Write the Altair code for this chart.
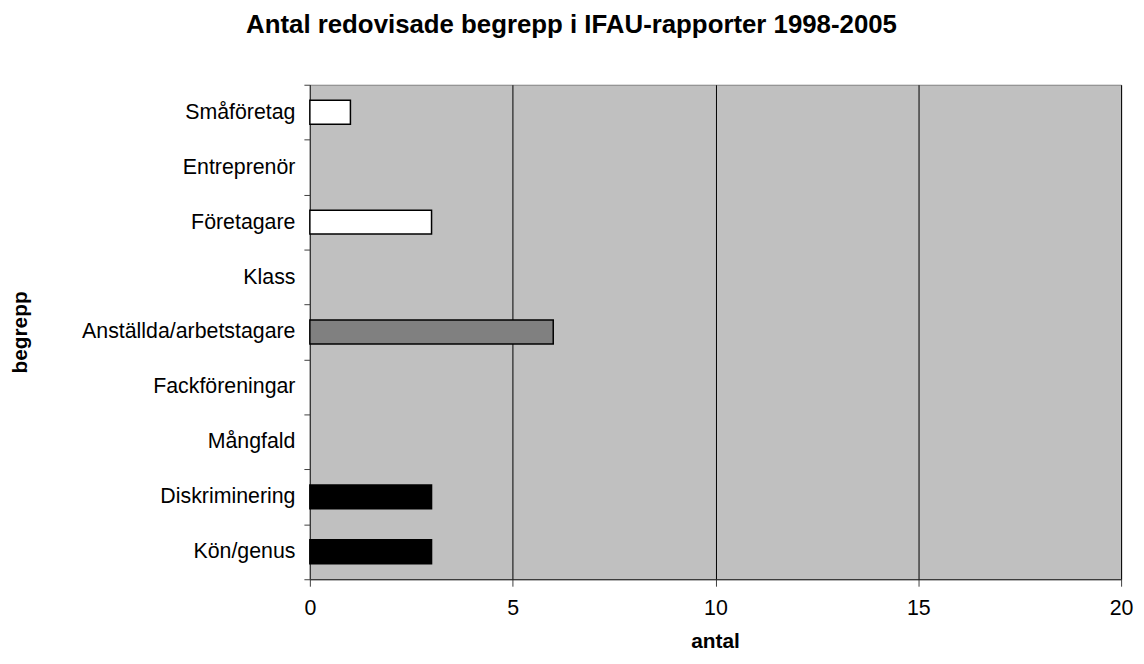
import altair as alt
import pandas as pd

categories = ["Småföretag", "Entreprenör", "Företagare", "Klass",
              "Anställda/arbetstagare", "Fackföreningar", "Mångfald",
              "Diskriminering", "Kön/genus"]
values = [1, 0, 3, 0, 6, 0, 0, 3, 3]
groups = ["vit", "vit", "vit", "grå", "grå", "grå", "grå", "svart", "svart"]

group_domain = ["vit", "grå", "svart"]
group_colors = ["#FFFFFF", "#808080", "#000000"]

df = pd.DataFrame({"begrepp": categories, "antal": values, "grupp": groups})

FONT = "Liberation Sans"

chart = alt.Chart(df).mark_bar(
    size=24, stroke="black", strokeWidth=1.5
).encode(
    y=alt.Y(
        "begrepp:N", sort=categories,
        scale=alt.Scale(paddingInner=0, paddingOuter=0),
        axis=alt.Axis(
            title="begrepp", tickBand="extent", grid=False,
            domainColor="#404040", tickColor="#404040", tickSize=6,
            labelPadding=9, labelFontSize=21.5, labelFont=FONT, labelColor="black",
            labelLimit=0,
            titleFont=FONT, titleFontSize=21, titleFontWeight="bold", titleColor="black",
            titleAngle=-90, titleX=-291, titleY=249, titleAlign="center",
            titleBaseline="middle",
        ),
    ),
    x=alt.X(
        "antal:Q",
        scale=alt.Scale(domain=[0, 20]),
        axis=alt.Axis(
            title="antal", values=[0, 5, 10, 15, 20], grid=True,
            gridColor="black", gridWidth=1, gridOpacity=1,
            domainColor="#202020", tickColor="#404040", tickSize=7,
            labelPadding=12, labelFontSize=21.5, labelFont=FONT, labelColor="black",
            labelFlush=False,
            titleFont=FONT, titleFontSize=21, titleFontWeight="bold", titleColor="black",
            titleX=408, titleY=69, titleAlign="center", titleBaseline="alphabetic",
        ),
    ),
    fill=alt.Fill("grupp:N", scale=alt.Scale(domain=group_domain, range=group_colors), legend=None),
    strokeOpacity=alt.condition("datum.antal > 0", alt.value(1), alt.value(0)),
).properties(
    width=817,
    height=498,
    autosize=alt.AutoSizeParams(type="none"),
    padding={"left": 304, "top": 75, "right": 15, "bottom": 74},
    background="white",
    title=alt.TitleParams(
        "Antal redovisade begrepp i IFAU-rapporter 1998-2005",
        font=FONT, fontSize=26, fontWeight="bold", color="black",
        anchor="middle", dx=-145, baseline="bottom", offset=10,
    ),
).configure_view(
    fill="#C0C0C0", stroke="#808080", strokeWidth=1
)

chart.save("out.html", embed_options={"renderer": "svg", "actions": False})
